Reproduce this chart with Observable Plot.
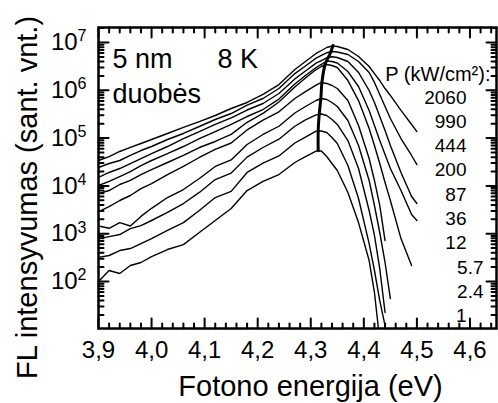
<!DOCTYPE html>
<html><head><meta charset="utf-8">
<script src="https://cdn.jsdelivr.net/npm/d3@7"></script>
<script src="https://cdn.jsdelivr.net/npm/@observablehq/plot@0.6"></script>
<style>body{margin:0;background:#fff} svg{display:block}</style>
</head><body><div id="chart"></div>
<script>
// Photon energy grid (eV)
const energies = [3.90, 3.92, 3.94, 3.96, 3.98, 4.00, 4.03, 4.06, 4.09, 4.12, 4.15, 4.18, 4.21, 4.24, 4.27, 4.29, 4.31, 4.32, 4.33, 4.34, 4.35, 4.37, 4.39, 4.41, 4.42, 4.43, 4.44, 4.45, 4.47, 4.49, 4.50];
// Excitation power density labels (kW/cm²)
const powers = ["2060", "990", "444", "200", "87", "36", "12", "5.7", "2.4", "1"];
// PL intensity (arb. units) for each power
const I2060 = [3.4e4, 4.1e4, 5.25e4, 6.4e4, 7.7e4, 9.35e4, 1.25e5, 1.67e5, 2.22e5, 2.97e5, 4.16e5, 5.56e5, 8.2e5, 1.32e6, 2.72e6, 4.0e6, 5.9e6, 6.8e6, 7.86e6, 8.45e6, 8.25e6, 7.14e6, 5.09e6, 3.15e6, 2.24e6, 1.6e6, 1.09e6, 7.8e5, 3.8e5, 1.93e5, 1.37e5];
const I990 = [2.43e4, 2.94e4, 3.4e4, 4.33e4, 5.5e4, 6.67e4, 9.35e4, 1.25e5, 1.75e5, 2.45e5, 3.27e5, 4.92e5, 6.74e5, 1.09e6, 2.24e6, 3.22e6, 4.72e6, 5.35e6, 6.09e6, 6.48e6, 6.33e6, 5.61e6, 4.0e6, 2.36e6, 1.46e6, 8.17e5, 4.58e5, 2.57e5, 9.8e4, 4.33e4, 2.8e4];
const I444 = [1.5e4, 1.91e4, 2.31e4, 2.94e4, 3.74e4, 4.76e4, 6.67e4, 9.8e4, 1.37e5, 1.93e5, 2.65e5, 3.87e5, 5.3e5, 8.57e5, 1.73e6, 2.53e6, 3.71e6, 4.2e6, 4.79e6, 5.02e6, 4.86e6, 4.0e6, 2.36e6, 9.9e5, 5.56e5, 2.83e5, 1.44e5, 7.0e4, 1.91e4, 6.0e3, 4.28e3];
const I200 = [1.02e4, 1.24e4, 1.57e4, 2.0e4, 2.67e4, 3.4e4, 4.76e4, 6.67e4, 9.8e4, 1.37e5, 1.93e5, 2.83e5, 3.96e5, 6.55e5, 1.35e6, 2.04e6, 3.0e6, 3.47e6, 4.1e6, 4.0e6, 3.72e6, 2.47e6, 1.2e6, 3.78e5, 1.84e5, 8.9e4, 4.54e4, 2.31e4, 8.0e3, 2.52e3, 1.89e3];
const I87 = [6.9e3, 8.0e3, 1.07e4, 1.3e4, 1.73e4, 2.2e4, 3.09e4, 4.33e4, 6.36e4, 8.5e4, 1.2e5, 2.14e5, 3.3e5, 5.7e5, 1.17e6, 1.81e6, 2.72e6, 3.15e6, 3.47e6, 3.3e6, 3.0e6, 1.6e6, 6.1e5, 1.59e5, 7.0e4, 2.94e4, 1.18e4, 4.95e3, 7.9e2, 2.16e2, null];
const I36 = [2.9e3, 3.7e3, 4.95e3, 6.3e3, 8.8e3, 1.12e4, 1.73e4, 2.55e4, 3.93e4, 5.8e4, 7.9e4, 1.48e5, 2.37e5, 3.55e5, 6.74e5, 9.4e5, 1.28e6, 1.46e6, 1.39e6, 1.26e6, 1.09e6, 6.1e5, 1.84e5, 3.74e4, 1.3e4, 3.9e3, 7.2e2, null, null, null, null];
const I12 = [1.45e3, 1.3e3, 1.7e3, 1.45e3, 2.3e3, 3.4e3, 5.72e3, 8.4e3, 1.43e4, 2.55e4, 3.5e4, 7.35e4, 1.19e5, 1.77e5, 3.35e5, 4.58e5, 6.12e5, 6.74e5, 6.42e5, 5.56e5, 4.58e5, 2.33e5, 7.0e4, 1.3e4, 3.89e3, 1.06e3, 2.5e2, 44, null, null, null];
const I5_7 = [7.9e2, 8.7e2, 9.6e2, 1.28e3, 1.48e3, 1.89e3, 2.78e3, 4.28e3, 7.3e3, 1.36e4, 1.86e4, 4.0e4, 6.36e4, 9.5e4, 1.77e5, 2.4e5, 3.07e5, 3.19e5, 2.97e5, 2.45e5, 1.93e5, 8.9e4, 2.31e4, 3.06e3, 9.2e2, 1.87e2, 22.5, null, null, null, null];
const I2_4 = [3.2e2, 3.5e2, 4.45e2, 4.9e2, 6.2e2, 7.9e2, 1.17e3, 1.71e3, 3.06e3, 5.7e3, 7.7e3, 1.91e4, 3.0e4, 4.24e4, 7.9e4, 1.05e5, 1.4e5, 1.41e5, 1.31e5, 1.03e5, 7.7e4, 2.67e4, 5.45e3, 6.2e2, 1.7e2, 40, 12, null, null, null, null];
const I1 = [1.0e2, 1.7e2, 1.47e2, 2.16e2, 2.5e2, 3.33e2, 4.67e2, 5.9e2, 1.06e3, 1.89e3, 3.37e3, 8.0e3, 1.24e4, 1.73e4, 3.09e4, 4.12e4, 5.37e4, 5.37e4, 4.12e4, 2.94e4, 2.1e4, 7.3e3, 1.71e3, 2.75e2, 59, 5.8, null, null, null, null, null];
// Peak positions (thick line through the maxima)
const peakEnergies = [4.314, 4.314, 4.316, 4.319, 4.321, 4.327, 4.330, 4.334, 4.338, 4.342];
const peakIntensities = [5.5e4, 1.44e5, 3.2e5, 6.7e5, 1.46e6, 3.47e6, 4.2e6, 5.1e6, 6.5e6, 8.66e6];
// Tick labels
const xMajorTicks = [3.9, 4.0, 4.1, 4.2, 4.3, 4.4, 4.5, 4.6];
const yMajorTicks = [1e2, 1e3, 1e4, 1e5, 1e6, 1e7];
const xTitle = "Fotono energija (eV)";
const yTitle = "FL intensyvumas (sant. vnt.)";

const series = [I2060, I990, I444, I200, I87, I36, I12, I5_7, I2_4, I1];
const rows = [];
series.forEach((vals, k) => vals.forEach((v, i) => { if (v != null) rows.push({E: energies[i], I: v, P: powers[k]}); }));
const peaks = peakEnergies.map((e, i) => ({E: e, I: peakIntensities[i]}));

const xDomain = [3.9, 4.65];
const yDomain = [10.4, 2.06e7];
const xMinor = d3.range(195, 233).filter(k => k % 5 !== 0).map(k => k / 50);
const yMinor = [];
for (let n = 1; n <= 7; n++) for (let m = 2; m <= 9; m++) { const v = m * 10 ** n; if (v > yDomain[0] && v < yDomain[1]) yMinor.push(v); }

const tickShape = {draw(context, l) { context.moveTo(0, 0); context.lineTo(0, -l); }};
const tk = (data, ch, frameAnchor, rotate, length) => Plot.vector(data, {
  [ch]: d => d, frameAnchor, rotate, length, anchor: "start", shape: tickShape, stroke: "black", strokeWidth: 2
});

const FONT = "'Liberation Sans', Arial, Helvetica, sans-serif";
const legendDy = (i) => 76 + i * 24.33;

const marks = [
  Plot.line(rows, {x: "E", y: "I", z: "P", stroke: "black", strokeWidth: 1.4, clip: true, curve: "linear"}),
  Plot.line(peaks, {x: "E", y: "I", stroke: "black", strokeWidth: 3, curve: "catmull-rom"}),
  Plot.frame({stroke: "black", strokeWidth: 2.5}),
  // inward ticks
  tk(xMajorTicks, "x", "bottom", 0, 10), tk(xMinor, "x", "bottom", 0, 5),
  tk(xMajorTicks, "x", "top", 180, 10), tk(xMinor, "x", "top", 180, 5),
  tk(yMajorTicks, "y", "left", 90, 10), tk(yMinor, "y", "left", 90, 5),
  tk(yMajorTicks, "y", "right", -90, 10), tk(yMinor, "y", "right", -90, 5),
  Plot.axisX({ticks: xMajorTicks, tickSize: 0, tickPadding: 12, fontSize: 24, label: null,
    tickFormat: d => d.toFixed(1).replace(".", ",")}),
  Plot.axisY({ticks: yMajorTicks, tickSize: 0, tickPadding: 12, fontSize: 24, label: null,
    tickFormat: d => "10^" + Math.round(Math.log10(d))}),
  // x axis title
  Plot.text([xTitle], {text: d => d, frameAnchor: "bottom", dx: 13, dy: 67, lineAnchor: "bottom", fontSize: 29}),
  // annotations
  Plot.text(["5 nm"], {text: d => d, frameAnchor: "top-left", dx: 14, dy: 40, lineAnchor: "bottom", textAnchor: "start", fontSize: 27}),
  Plot.text(["duobės"], {text: d => d, frameAnchor: "top-left", dx: 14, dy: 75, lineAnchor: "bottom", textAnchor: "start", fontSize: 27}),
  Plot.text(["8 K"], {text: d => d, frameAnchor: "top-left", dx: 119, dy: 40, lineAnchor: "bottom", textAnchor: "start", fontSize: 27}),
  Plot.text(["P (kW/cm²):"], {text: d => d, frameAnchor: "top-right", dx: -6, dy: 53, lineAnchor: "bottom", textAnchor: "end", fontSize: 20}),
  ...powers.map((p, i) => Plot.text([p], {text: d => d, frameAnchor: "top-right",
    dx: (p === "5.7" || p === "2.4") ? -13 : -30, dy: legendDy(i), lineAnchor: "bottom", textAnchor: "end", fontSize: 19}))
];

const chart = Plot.plot({
  width: 498, height: 403,
  marginLeft: 98, marginRight: 2, marginTop: 27, marginBottom: 75,
  style: {fontFamily: FONT, background: "#fff", color: "black", overflow: "visible"},
  x: {domain: xDomain},
  y: {type: "log", domain: yDomain},
  marks
});

const svgNS = "http://www.w3.org/2000/svg";
// superscript exponents on the y tick labels
chart.querySelectorAll('g[aria-label="y-axis tick label"] text').forEach(t => {
  const m = t.textContent.match(/^10\^(\d+)$/);
  if (m) {
    t.textContent = "10";
    const ts = document.createElementNS(svgNS, "tspan");
    ts.setAttribute("dy", "-0.55em");
    ts.setAttribute("font-size", "16");
    ts.textContent = m[1];
    t.appendChild(ts);
  }
});
// rotated y axis title
d3.select(chart).append("text")
  .attr("transform", "translate(37,197.5) rotate(-90)")
  .attr("text-anchor", "middle")
  .attr("font-size", 29)
  .attr("font-family", FONT)
  .attr("fill", "black")
  .text(yTitle);
document.getElementById("chart").appendChild(chart);
</script>
</body></html>
